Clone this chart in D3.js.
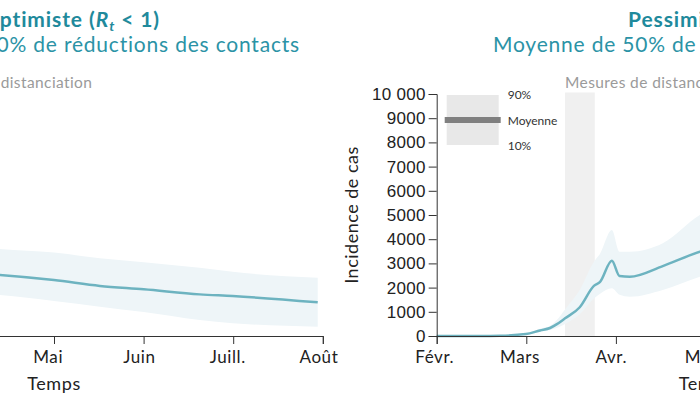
<!DOCTYPE html>
<html>
<head>
<meta charset="utf-8">
<script src="https://cdn.jsdelivr.net/npm/d3@7"></script>
<style>
  body { margin: 0; background: #fff; }
  #chart svg { display: block; font-family: Lato, "Open Sans", sans-serif; }
</style>
</head>
<body>
<div id="chart"></div>
<script>
// mois (étiquettes) et position du 1er du mois en jours depuis le 1er février
var months = ["Févr.", "Mars", "Avr.", "Mai", "Juin", "Juill.", "Août"];
var monthStartDays = [0, 29, 60, 90, 121, 151, 182];

var yTicks = [0, 1000, 2000, 3000, 4000, 5000, 6000, 7000, 8000, 9000, 10000];
var yTickLabels = ["0", "1000", "2000", "3000", "4000", "5000", "6000", "7000", "8000", "9000", "10 000"];

// période des mesures de distanciation (jours)
var distancing = [43.6, 53.7];

// scénario pessimiste
var pessDays = [0, 14.7, 21.5, 30.3, 35.1, 38.5, 40.7, 43.6, 48.6, 53.4, 55.5, 59.5, 62.1, 65.6, 76.8, 89.4, 100];
var pessMean = [0, 0, 10, 80, 230, 330, 480, 730, 1190, 2070, 2240, 3110, 2480, 2450, 2890, 3480, 3800];
var pessLow  = [0, 0, 5, 55, 170, 250, 330, 500, 900, 1550, 1750, 1970, 1700, 1620, 1900, 2450, 2800];
var pessHigh = [0, 0, 15, 110, 300, 420, 650, 1100, 1900, 3070, 3400, 4380, 3480, 3480, 3830, 5000, 5500];

// scénario optimiste
var optDays = [0, 14.7, 21.5, 30.3, 35.1, 38.5, 40.7, 43.6, 48.6, 53.4, 55.5, 59.5, 62.1, 65.6, 72.9, 91.3, 106.9, 121.8, 140.8, 152.0, 180.9];
var optMean = [0, 0, 10, 80, 230, 330, 480, 730, 1190, 2070, 2240, 3110, 2600, 2580, 2520, 2310, 2070, 1930, 1720, 1650, 1390];
var optLow  = [0, 0, 5, 55, 170, 250, 330, 500, 900, 1550, 1750, 1970, 1800, 1750, 1690, 1450, 1210, 990, 660, 530, 380];
var optHigh = [0, 0, 15, 110, 300, 420, 650, 1100, 1900, 3070, 3400, 4380, 3800, 3700, 3600, 3450, 3210, 3050, 2820, 2650, 2410];

var teal = "#1f8a9c";
var lineColor = "#6db3c0";
var bandColor = "#eef5f8";

var render = function() {
  let width = 700;
  let height = 394;

  d3.select("#chart").html("");

  let svg = d3.select("#chart")
  .append("svg")
  .attr("width", width)
  .attr("height", height);

  let panelW = 537.6;
  let plotTop = 94;
  let plotBottom = 336;

  let drawPanel = function(x0, days, mean, low, high, showLegend) {
    let x = d3.scaleLinear()
    .domain([0, 6 * 365.25 / 12])
    .range([x0, x0 + panelW]);

    let y = d3.scaleLinear()
    .domain([0, 10000])
    .range([plotBottom, plotTop]);

    let g = svg.append("g");

    // mesures de distanciation
    g.append("rect")
    .attr("x", x(distancing[0]))
    .attr("y", plotTop - 1.5)
    .attr("width", x(distancing[1]) - x(distancing[0]))
    .attr("height", plotBottom - plotTop + 1.5)
    .attr("fill", "#f0f0f0");

    g.append("text")
    .attr("x", x(distancing[0]))
    .attr("y", 88)
    .attr("fill", "#9a9a9a")
    .style("font-size", "15.5px")
    .style("letter-spacing", "0.4px")
    .text("Mesures de distanciation");

    let rows = days.map(function(d, i) {
      return { day: d, mean: mean[i], low: low[i], high: high[i] };
    });

    let area = d3.area()
    .x((d) => x(d.day))
    .y0((d) => y(d.low))
    .y1((d) => y(d.high))
    .curve(d3.curveMonotoneX);

    g.append("path")
    .datum(rows)
    .attr("d", area)
    .attr("fill", bandColor);

    let line = d3.line()
    .x((d) => x(d.day))
    .y((d) => y(d.mean))
    .curve(d3.curveMonotoneX);

    g.append("path")
    .datum(rows)
    .attr("d", line)
    .attr("fill", "none")
    .attr("stroke", lineColor)
    .attr("stroke-width", 2.5);

    // axes
    let yAxis = d3.axisLeft(y)
    .tickValues(yTicks)
    .tickSize(8)
    .tickPadding(3)
    .tickFormat((d, i) => yTickLabels[i]);

    g.append("g")
    .attr("transform", "translate(" + x0 + ",0)")
    .call(yAxis)
    .call((a) => a.selectAll("text").style("font-size", "17px").style("letter-spacing", "0.3px").attr("fill", "#222"))
    .call((a) => a.selectAll("path, line").attr("stroke", "#333"));

    let tickDays = months.map((m, i) => i * 365.25 / 12);
    let xAxis = d3.axisBottom(x)
    .tickValues(tickDays)
    .tickSize(8)
    .tickFormat("");

    g.append("g")
    .attr("transform", "translate(0," + plotBottom + ")")
    .call(xAxis)
    .call((a) => a.selectAll("path, line").attr("stroke", "#333"));

    g.selectAll(".month")
    .data(months)
    .enter()
    .append("text")
    .attr("x", (d, i) => x(monthStartDays[i]) - 2)
    .attr("y", plotBottom + 27)
    .attr("text-anchor", "middle")
    .attr("fill", "#222")
    .style("font-size", "17px")
    .style("letter-spacing", "0.6px")
    .text((d) => d);

    g.append("text")
    .attr("x", x0 + panelW / 2)
    .attr("y", 390)
    .attr("text-anchor", "middle")
    .attr("fill", "#222")
    .style("font-size", "18px")
    .style("letter-spacing", "0.6px")
    .text("Temps");

    g.append("text")
    .attr("transform", "translate(" + (x0 - 79) + "," + ((plotTop + plotBottom) / 2) + ") rotate(-90)")
    .attr("text-anchor", "middle")
    .attr("fill", "#222")
    .style("font-size", "18px")
    .style("letter-spacing", "0.5px")
    .text("Incidence de cas");

    if (showLegend) {
      g.append("rect")
      .attr("x", x0 + 10)
      .attr("y", 95)
      .attr("width", 52)
      .attr("height", 50)
      .attr("fill", "#e8e8e8");

      g.append("rect")
      .attr("x", x0 + 8)
      .attr("y", 117)
      .attr("width", 56)
      .attr("height", 6)
      .attr("fill", "#808080");

      let legendItems = [["90%", 99], ["Moyenne", 124.5], ["10%", 150]];
      g.selectAll(".leg")
      .data(legendItems)
      .enter()
      .append("text")
      .attr("x", x0 + 71)
      .attr("y", (d) => d[1])
      .attr("fill", "#333")
      .style("font-size", "12px")
      .text((d) => d[0]);
    }
  };

  drawPanel(-214.8, optDays, optMean, optLow, optHigh, false);
  drawPanel(436.7, pessDays, pessMean, pessLow, pessHigh, true);

  // titres
  let addTitle = function(tx, anchor, name, sign) {
    let t = svg.append("text")
    .attr("x", tx)
    .attr("y", 27)
    .attr("text-anchor", anchor)
    .attr("fill", teal)
    .style("font-size", "21px")
    .style("letter-spacing", "0.9px")
    .style("font-weight", "bold");
    t.append("tspan").text(name + " (");
    t.append("tspan").style("font-style", "italic").text("R");
    t.append("tspan").style("font-style", "italic").style("font-size", "14px").attr("dy", 4).text("t");
    t.append("tspan").attr("dy", -4).text(" " + sign + " 1)");
  };
  addTitle(160, "end", "Optimiste", "<");
  addTitle(628, "start", "Pessimiste", ">");

  let addSubtitle = function(tx, anchor, txt) {
    svg.append("text")
    .attr("x", tx)
    .attr("y", 52)
    .attr("text-anchor", anchor)
    .attr("fill", "#2b93a6")
    .style("font-size", "21px")
    .style("letter-spacing", "0.8px")
    .text(txt);
  };
  addSubtitle(300, "end", "Moyenne de 80% de réductions des contacts");
  addSubtitle(493, "start", "Moyenne de 50% de réductions des contacts");
};

render();
</script>
</body>
</html>
